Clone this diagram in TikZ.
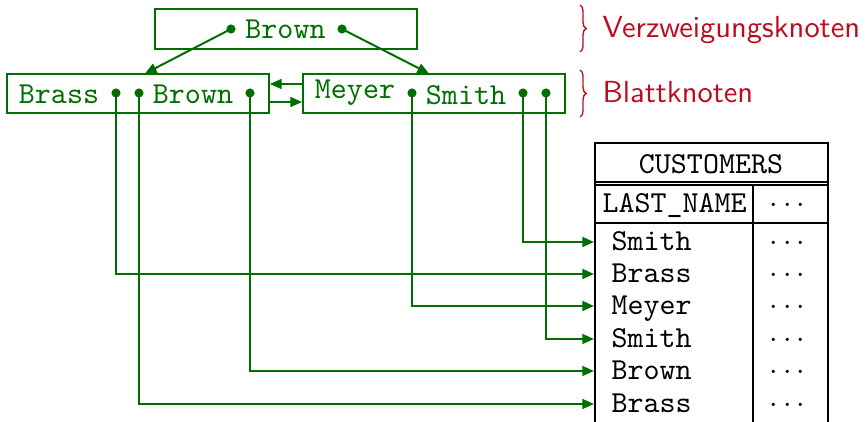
\documentclass[tikz,border=0pt]{standalone}
\usetikzlibrary{arrows.meta,decorations.pathreplacing}
\definecolor{tgreen}{RGB}{0,110,0}
\definecolor{tred}{RGB}{190,10,30}
\begin{document}
\begin{tikzpicture}[x=0.328pt,y=-0.328pt,
  box/.style={draw=tgreen,line width=0.65pt,rectangle,inner sep=0pt,minimum width=85.9pt},
  tt/.style={font=\ttfamily,inner sep=0pt,anchor=base},
  gtt/.style={tt,text=tgreen},
  dot/.style={circle,fill=tgreen,inner sep=0pt,minimum size=3pt},
  conn/.style={draw=tgreen,line width=0.65pt,-{Triangle[length=3.8pt,width=3.2pt]}},
  tline/.style={draw=black,line width=0.65pt},
  lbl/.style={font=\sffamily,text=tred,inner sep=0pt,anchor=base west},
  brc/.style={draw=tred,line width=0.45pt,decorate,decoration={brace,amplitude=2pt}}]
\useasboundingbox (0,0) rectangle (866,422);
% index nodes
\node[box,minimum height=13.1pt] (root) at (286,29) {};
\node[box,minimum height=12.8pt] (leafL) at (138,93.5) {};
\node[box,minimum height=12.8pt] (leafR) at (434,93.5) {};
% texts
\node[gtt] (tRoot) at (285.5,38) {Brown};
\node[gtt] (tBrass) at (59,103) {Brass};
\node[gtt] (tBrown) at (193,103) {Brown};
\node[gtt] (tMeyer) at (355,99) {Meyer};
\node[gtt] (tSmith) at (466,104) {Smith};
% dots
\node[dot] (rd1) at (231,29) {};
\node[dot] (rd2) at (342,29) {};
\node[dot] (ld1) at (116,93) {};
\node[dot] (ld2) at (139,93) {};
\node[dot] (ld3) at (250,93) {};
\node[dot] (md1) at (412,93) {};
\node[dot] (md2) at (523,93) {};
\node[dot] (md3) at (546,93) {};
% tree arrows
\coordinate (tipL) at (145,73.5);
\coordinate (tipR) at (429,73.5);
\draw[conn] (rd1.center) -- (tipL);
\draw[conn] (rd2.center) -- (tipR);
\draw[conn] (leafR.west |- 0,84) -- (leafL.east |- 0,84);
\draw[conn] (leafL.east |- 0,102) -- (leafR.west |- 0,102);
% braces and labels
\draw[brc] (580,5) -- (580,52);
\draw[brc] (580,70) -- (580,117);
\node[lbl] (lv) at (602,37) {Verzweigungsknoten};
\node[lbl] (lb) at (602,102) {Blattknoten};
% table
\coordinate (tTL) at (595,143);
\coordinate (tTR) at (828,143);
\draw[tline] (595,422) -- (tTL) -- (tTR) -- (828,422);
\draw[tline] (595,182) -- (828,182);
\draw[tline] (595,185) -- (828,185);
\draw[tline] (595,223) -- (828,223);
\draw[tline] (753,185) -- (753,422);
\node[tt] (hCust) at (711,173) {CUSTOMERS};
\node[tt,anchor=base west] (hLast) at (602,212) {LAST\_NAME};
\node[tt] (hDots) at (787.5,212) {$\cdots$};
% rows
\foreach \i/\y/\t in {1/242/Smith,2/274/Brass,3/306/Meyer,4/339/Smith,5/371/Brown,6/404/Brass}{
  \node[tt,anchor=base west] (row\i) at (611,\y+8.5) {\t};
  \node[tt] (dots\i) at (787.5,\y+8.5) {$\cdots$};
  \coordinate (e\i) at (594,\y);
}
% pointers to rows
\draw[conn] (ld1.center) |- (e2);
\draw[conn] (ld2.center) |- (e6);
\draw[conn] (ld3.center) |- (e5);
\draw[conn] (md1.center) |- (e3);
\draw[conn] (md2.center) |- (e1);
\draw[conn] (md3.center) |- (e4);
\end{tikzpicture}
\end{document}
